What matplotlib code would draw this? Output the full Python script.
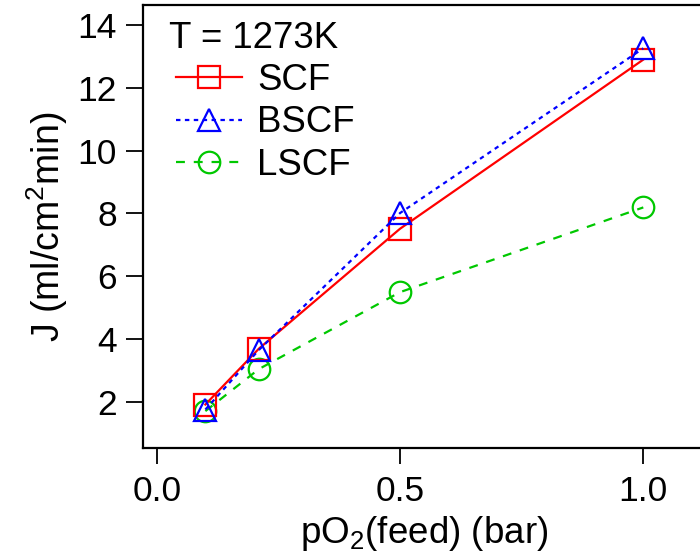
import matplotlib
matplotlib.use("Agg")
import matplotlib.pyplot as plt

plt.rcParams['font.family'] = ['Liberation Sans', 'DejaVu Sans']
plt.rcParams['mathtext.fontset'] = 'custom'
plt.rcParams['mathtext.rm'] = 'Liberation Sans'
plt.rcParams['mathtext.it'] = 'Liberation Sans'
plt.rcParams['mathtext.default'] = 'regular'

# data
po2 = [0.1, 0.21, 0.5, 1.0]
scf = [1.91, 3.69, 7.51, 12.90]
bscf = [1.75, 3.65, 8.01, 13.26]
lscf = [1.70, 3.04, 5.49, 8.19]
series_names = ["SCF", "BSCF", "LSCF"]
legend_title = "T = 1273K"
xticks = [0.0, 0.5, 1.0]
xticklabels = ["0.0", "0.5", "1.0"]
yticks = [2, 4, 6, 8, 10, 12, 14]

W, H = 700, 558
fig = plt.figure(figsize=(W / 100, H / 100), dpi=100)
L, R, B, T = 142.7, 705.0, 448.3, 5.3
ax = fig.add_axes([L / W, 1 - B / H, (R - L) / W, (B - T) / H])

red = '#ff0000'
blue = '#0000ff'
green = '#00c800'
ms = 15.5
mew = 1.6
ax.plot(po2, scf, color=red, lw=1.6, ls='-', marker='s', ms=ms, mew=mew,
        mfc='none', mec=red, label=series_names[0], zorder=3)
ax.plot(po2, bscf, color=blue, lw=1.6, ls=(0, (2, 2)), marker='^', ms=ms, mew=mew,
        mfc='none', mec=blue, label=series_names[1], zorder=4)
ax.plot(po2, lscf, color=green, lw=1.6, ls=(0, (4, 4)), marker='o', ms=ms, mew=mew,
        mfc='none', mec=green, label=series_names[2], zorder=2)

ax.set_xlim(-0.0288, 1.1268)
ax.set_ylim(0.515, 14.63)
ax.set_xticks(xticks)
ax.set_xticklabels(xticklabels)
ax.set_yticks(yticks)

for s in ['left', 'bottom', 'top']:
    ax.spines[s].set_linewidth(1.6)
ax.spines['right'].set_visible(False)

ax.tick_params(axis='x', direction='out', length=11.5, width=1.3, labelsize=25.5, pad=8)
ax.tick_params(axis='y', direction='out', length=12.5, width=1.3, labelsize=25.5, pad=6)

ax.set_xlabel("pO$_2$(feed) (bar)", fontsize=26.5)
ax.xaxis.label.set_va('baseline')
ax.xaxis.set_label_coords(0.5, (B - 543) / (B - T))
ax.set_ylabel("J (ml/cm$^2$min)", fontsize=27)
ax.yaxis.set_label_coords((70 - L) / (R - L), 0.5)

ax.text(169 / W, 1 - 48.3 / H, legend_title, transform=fig.transFigure,
        fontsize=26.4, ha='left', va='baseline')
leg = ax.legend(loc='upper left', bbox_to_anchor=(176 / W, 1 - 63 / H),
                bbox_transform=fig.transFigure, frameon=False, fontsize=26.4,
                handlelength=1.8, handletextpad=0.41, labelspacing=0.2,
                borderpad=0, borderaxespad=0)

fig.savefig("out.png", dpi=100)
